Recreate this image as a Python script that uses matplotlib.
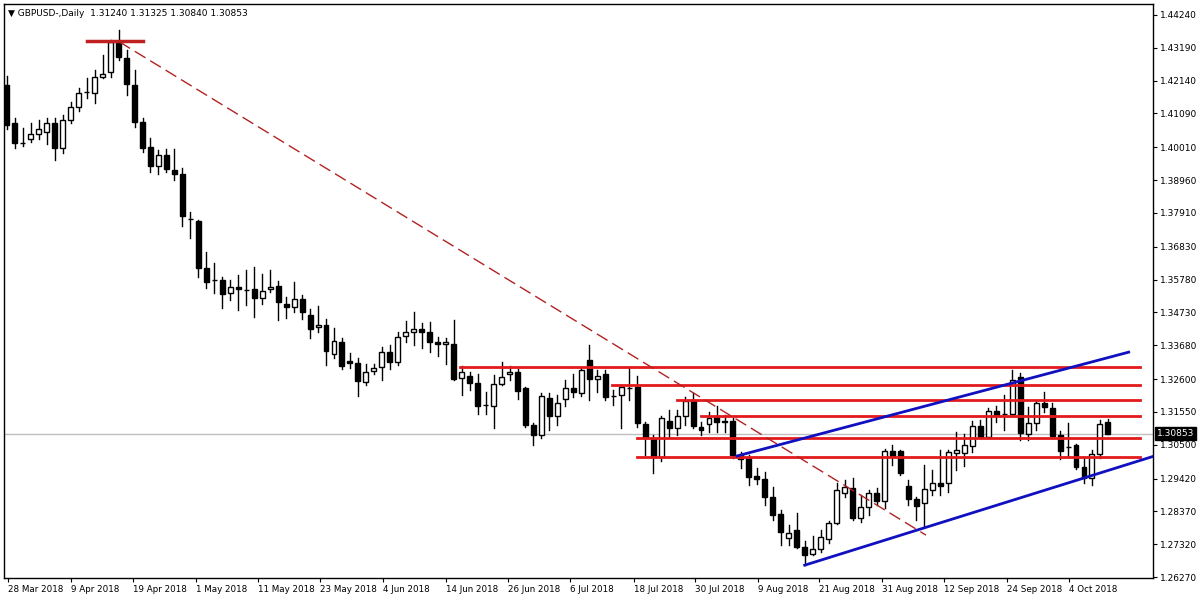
import matplotlib
matplotlib.use("Agg")
import matplotlib.pyplot as plt
from matplotlib.patches import Rectangle

opens = [1.4200,1.4079,1.4015,1.4027,1.4043,1.4050,1.4079,1.3999,1.4088,1.4130,
 1.4178,1.4175,1.4226,1.4242,1.4334,1.4287,1.4200,1.4082,1.4002,1.3941,
 1.3976,1.3928,1.3916,1.3772,1.3765,1.3615,1.3577,1.3577,1.3535,1.3554,
 1.3545,1.3548,1.3519,1.3548,1.3557,1.3500,1.3490,1.3516,1.3465,1.3426,
 1.3433,1.3340,1.3378,1.3317,1.3311,1.3250,1.3286,1.3298,1.3346,1.3314,
 1.3397,1.3410,1.3420,1.3410,1.3378,1.3372,1.3372,1.3263,1.3270,1.3247,
 1.3177,1.3174,1.3244,1.3276,1.3282,1.3231,1.3113,1.3081,1.3199,1.3142,
 1.3196,1.3231,1.3215,1.3321,1.3260,1.3276,1.3206,1.3209,1.3231,1.3234,
 1.3116,1.3071,1.3011,1.3126,1.3103,1.3142,1.3190,1.3106,1.3116,1.3138,
 1.3126,1.3126,1.3017,1.3007,1.2950,1.2940,1.2883,1.2828,1.2751,1.2777,
 1.2723,1.2700,1.2716,1.2748,1.2799,1.2895,1.2911,1.2815,1.2851,1.2895,
 1.2870,1.3030,1.3030,1.2918,1.2876,1.2863,1.2905,1.2927,1.2927,1.3023,
 1.3023,1.3046,1.3110,1.3075,1.3158,1.3148,1.3148,1.3266,1.3084,1.3119,
 1.3183,1.3167,1.3081,1.3043,1.3049,1.2979,1.2943,1.3020,1.31240]
closes = [1.4072,1.4015,1.4015,1.4043,1.4060,1.4079,1.3999,1.4088,1.4130,1.4175,
 1.4178,1.4226,1.4235,1.4338,1.4290,1.4203,1.4082,1.3999,1.3941,1.3976,
 1.3932,1.3916,1.3781,1.3772,1.3615,1.3570,1.3577,1.3532,1.3554,1.3548,
 1.3545,1.3519,1.3541,1.3554,1.3506,1.3490,1.3516,1.3474,1.3420,1.3433,
 1.3349,1.3381,1.3302,1.3311,1.3254,1.3282,1.3295,1.3346,1.3314,1.3394,
 1.3410,1.3420,1.3410,1.3378,1.3372,1.3378,1.3260,1.3282,1.3247,1.3174,
 1.3177,1.3244,1.3266,1.3282,1.3222,1.3113,1.3081,1.3206,1.3142,1.3183,
 1.3231,1.3218,1.3289,1.3260,1.3270,1.3202,1.3206,1.3234,1.3231,1.3119,
 1.3071,1.3011,1.3135,1.3103,1.3142,1.3190,1.3110,1.3097,1.3135,1.3122,
 1.3122,1.3017,1.3004,1.2947,1.2940,1.2883,1.2825,1.2771,1.2767,1.2723,
 1.2697,1.2716,1.2755,1.2799,1.2905,1.2915,1.2815,1.2851,1.2895,1.2870,
 1.3030,1.3014,1.2959,1.2876,1.2854,1.2908,1.2927,1.2918,1.3027,1.3033,
 1.3049,1.3110,1.3075,1.3158,1.3145,1.3148,1.3257,1.3087,1.3119,1.3183,
 1.3170,1.3078,1.3030,1.3043,1.2979,1.2943,1.3020,1.3116,1.30853]
highs = [1.4230,1.4095,1.4063,1.4079,1.4088,1.4095,1.4095,1.4104,1.4146,1.4191,
 1.4223,1.4248,1.4296,1.4344,1.4376,1.4312,1.4248,1.4095,1.4031,1.3992,
 1.3995,1.3995,1.3935,1.3794,1.3768,1.3666,1.3631,1.3586,1.3577,1.3593,
 1.3608,1.3618,1.3596,1.3608,1.3573,1.3522,1.3570,1.3529,1.3484,1.3494,
 1.3452,1.3423,1.3391,1.3343,1.3327,1.3308,1.3308,1.3362,1.3369,1.3410,
 1.3445,1.3474,1.3439,1.3442,1.3394,1.3391,1.3449,1.3302,1.3282,1.3276,
 1.3218,1.3273,1.3314,1.3302,1.3292,1.3234,1.3119,1.3215,1.3215,1.3209,
 1.3257,1.3276,1.3295,1.3369,1.3289,1.3289,1.3225,1.3241,1.3298,1.3270,
 1.3122,1.3081,1.3142,1.3161,1.3161,1.3202,1.3215,1.3122,1.3154,1.3174,
 1.3145,1.3135,1.3027,1.3017,1.2975,1.2963,1.2915,1.2841,1.2793,1.2831,
 1.2742,1.2758,1.2777,1.2806,1.2927,1.2937,1.2943,1.2889,1.2905,1.2911,
 1.3036,1.3049,1.3033,1.2937,1.2883,1.2985,1.2969,1.3033,1.3033,1.3090,
 1.3084,1.3126,1.3129,1.3167,1.3174,1.3209,1.3289,1.3279,1.3170,1.3190,
 1.3218,1.3183,1.3094,1.3119,1.3052,1.3011,1.3033,1.3129,1.31325]
lows = [1.4060,1.3999,1.4005,1.4018,1.4027,1.4012,1.3960,1.3983,1.4079,1.4117,
 1.4159,1.4143,1.4223,1.4226,1.4280,1.4168,1.4066,1.3986,1.3922,1.3916,
 1.3922,1.3896,1.3749,1.3711,1.3586,1.3551,1.3535,1.3487,1.3513,1.3481,
 1.3497,1.3458,1.3500,1.3538,1.3449,1.3455,1.3474,1.3452,1.3391,1.3410,
 1.3305,1.3327,1.3292,1.3295,1.3206,1.3241,1.3276,1.3257,1.3292,1.3305,
 1.3378,1.3369,1.3359,1.3346,1.3334,1.3308,1.3257,1.3209,1.3225,1.3148,
 1.3148,1.3103,1.3241,1.3257,1.3196,1.3106,1.3049,1.3071,1.3097,1.3113,
 1.3174,1.3202,1.3206,1.3193,1.3218,1.3193,1.3177,1.3103,1.3193,1.3106,
 1.3017,1.2959,1.2998,1.3075,1.3081,1.3113,1.3103,1.3081,1.3090,1.3090,
 1.3090,1.3007,1.2976,1.2921,1.2924,1.2857,1.2809,1.2729,1.2729,1.2720,
 1.2665,1.2697,1.2707,1.2735,1.2796,1.2883,1.2809,1.2803,1.2825,1.2857,
 1.2847,1.2985,1.2953,1.2857,1.2809,1.2787,1.2889,1.2889,1.2899,1.2969,
 1.2982,1.3027,1.3071,1.3071,1.3122,1.3097,1.3142,1.3065,1.3065,1.3097,
 1.3154,1.3075,1.3004,1.3011,1.2972,1.2927,1.2921,1.3007,1.30840]

red_levels = [(1.3298, 56.8), (1.3241, 75.8), (1.3193, 84.0), (1.3142, 87.0), (1.3071, 79.0), (1.3011, 79.0)]
red_end = 142.0
top_level = (1.4341, 10.0, 17.1)
red_trend = [(14.1, 1.4338), (115.2, 1.2761)]
blue_upper = [(91.5, 1.3014), (140.6, 1.3346)]
blue_lower = [(100.0, 1.2665), (144.2, 1.3017)]
last_price = 1.30853

ytick_vals = [1.44240,1.43190,1.42140,1.41090,1.40010,1.38960,1.37910,1.36830,1.35780,
 1.34730,1.33680,1.32600,1.31550,1.30500,1.29420,1.28370,1.27320,1.26270]
xtick_pos = [0.2,8.1,15.8,23.7,31.5,39.3,47.1,55.0,62.8,70.6,78.6,86.2,94.1,101.8,109.7,117.5,125.3,133.1]
xtick_labels = ["28 Mar 2018","9 Apr 2018","19 Apr 2018","1 May 2018","11 May 2018","23 May 2018",
 "4 Jun 2018","14 Jun 2018","26 Jun 2018","6 Jul 2018","18 Jul 2018","30 Jul 2018","9 Aug 2018",
 "21 Aug 2018","31 Aug 2018","12 Sep 2018","24 Sep 2018","4 Oct 2018"]

fig = plt.figure(figsize=(12, 6), dpi=100)
ax = fig.add_axes([0.003, 22/600, 1149/1200, 574/600])
ax.set_xlim(-0.41, 143.6)
ax.set_ylim(1.2624, 1.4459)

ax.axhline(last_price, color="#c0c0c0", lw=1, zorder=1)

w = 0.62
for i, (o, c, h, l) in enumerate(zip(opens, closes, highs, lows)):
    ax.plot([i, i], [l, h], color="black", lw=1, zorder=3)
    bot, top = min(o, c), max(o, c)
    hgt = max(top - bot, 0.00012)
    fc = "black" if c < o else "white"
    ax.add_patch(Rectangle((i - w/2, bot), w, hgt, facecolor=fc, edgecolor="black", lw=1, zorder=4))

for p, s in red_levels:
    ax.plot([s, red_end], [p, p], color="#e31a1c", lw=2, zorder=5)
ax.plot([top_level[1], top_level[2]], [top_level[0]]*2, color="#c0201f", lw=2.5, zorder=5)
ax.plot(*zip(*red_trend), color="#b22222", lw=1, dashes=(9, 4), zorder=5)
ax.plot(*zip(*blue_upper), color="#1010c0", lw=2, zorder=5)
ax.plot(*zip(*blue_lower), color="#1010c0", lw=2, zorder=5)

ax.yaxis.tick_right()
ax.set_yticks(ytick_vals)
ax.set_yticklabels([f"{v:.5f}" for v in ytick_vals], fontsize=6.5)
ax.set_xticks(xtick_pos)
ax.set_xticklabels(xtick_labels, fontsize=6.3, ha="left")
ax.tick_params(axis="both", length=3, pad=2, direction="out")
for sp in ax.spines.values():
    sp.set_color("black"); sp.set_linewidth(1)

ax.text(1.004, last_price, f"{last_price:.5f}", transform=ax.get_yaxis_transform(),
        fontsize=6.5, color="white", va="center", ha="left",
        bbox=dict(boxstyle="square,pad=0.2", fc="black", ec="black"))
ax.text(0.004, 0.992, "▼ GBPUSD-,Daily  1.31240 1.31325 1.30840 1.30853", transform=ax.transAxes,
        fontsize=6.5, va="top", ha="left")

fig.savefig("out.png", dpi=100)
